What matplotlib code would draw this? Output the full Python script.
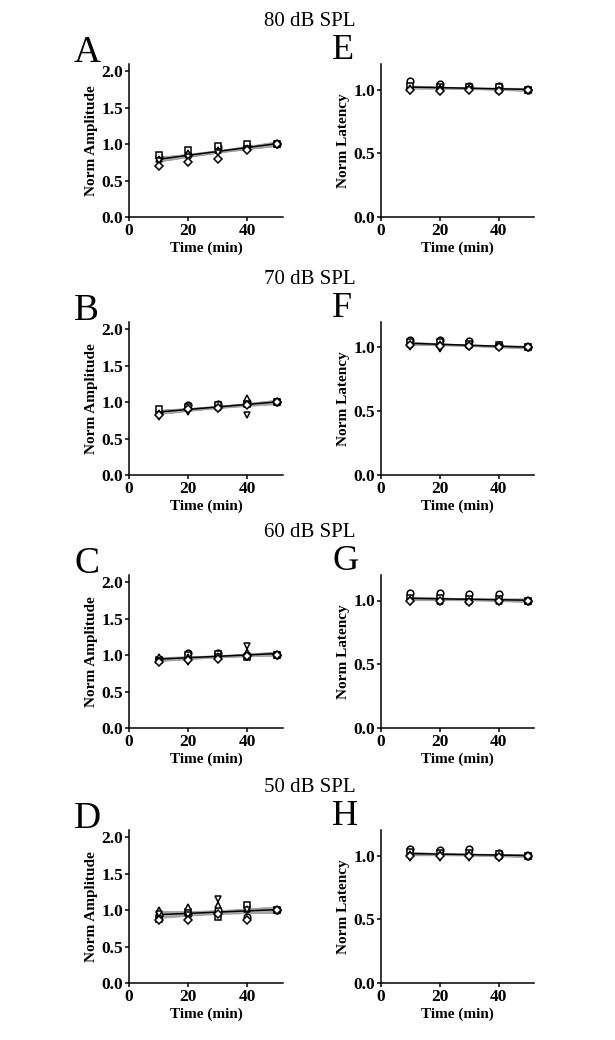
import matplotlib.pyplot as plt
import numpy as np

plt.rcParams['font.family'] = ['Liberation Serif', 'DejaVu Serif']

times = [10, 20, 30, 40, 50]
markers = ['o', 's', '^', 'v', 'D']
levels = ['80 dB SPL', '70 dB SPL', '60 dB SPL', '50 dB SPL']
amp_letters = ['A', 'B', 'C', 'D']
lat_letters = ['E', 'F', 'G', 'H']

# amplitude, one row per animal (circle, square, up, down, diamond)
amp_80 = [[0.82, 0.85, 0.96, 0.98, 1.0],
          [0.85, 0.92, 0.98, 1.00, 1.0],
          [0.80, 0.88, 0.92, 0.95, 1.0],
          [0.77, 0.82, 0.88, 0.94, 1.0],
          [0.70, 0.76, 0.80, 0.92, 1.0]]
amp_70 = [[0.87, 0.96, 0.98, 1.00, 1.0],
          [0.90, 0.94, 0.96, 0.98, 1.0],
          [0.85, 0.92, 0.94, 1.05, 1.0],
          [0.80, 0.87, 0.90, 0.83, 1.0],
          [0.83, 0.90, 0.92, 0.96, 1.0]]
amp_60 = [[0.95, 1.03, 1.03, 1.00, 1.0],
          [0.93, 1.00, 1.01, 0.98, 1.0],
          [0.98, 0.97, 0.99, 1.05, 1.0],
          [0.92, 0.90, 0.97, 1.12, 1.0],
          [0.90, 0.93, 0.95, 0.99, 1.0]]
amp_50 = [[0.93, 0.95, 1.00, 0.91, 1.0],
          [0.88, 0.97, 0.90, 1.07, 1.0],
          [1.00, 1.05, 1.07, 1.02, 1.0],
          [0.95, 0.93, 1.15, 1.00, 1.0],
          [0.86, 0.87, 0.95, 0.87, 1.0]]

# latency
lat_80 = [[1.07, 1.04, 1.03, 1.03, 1.0],
          [1.03, 1.02, 1.02, 1.02, 1.0],
          [1.01, 1.01, 1.01, 1.00, 1.0],
          [0.99, 1.00, 1.00, 0.99, 1.0],
          [1.00, 0.99, 1.00, 0.99, 1.0]]
lat_70 = [[1.06, 1.06, 1.05, 1.02, 1.0],
          [1.04, 1.04, 1.03, 1.02, 1.0],
          [1.03, 1.03, 1.02, 1.01, 1.0],
          [1.00, 0.99, 1.00, 1.00, 1.0],
          [1.02, 1.01, 1.01, 1.00, 1.0]]
lat_60 = [[1.06, 1.06, 1.05, 1.05, 1.0],
          [1.02, 1.02, 1.01, 1.01, 1.0],
          [1.01, 1.00, 1.00, 1.00, 1.0],
          [0.99, 0.99, 0.99, 0.99, 1.0],
          [1.00, 1.00, 0.99, 1.00, 1.0]]
lat_50 = [[1.05, 1.04, 1.05, 1.02, 1.0],
          [1.03, 1.02, 1.02, 1.01, 1.0],
          [1.01, 1.01, 1.01, 1.00, 1.0],
          [0.98, 0.98, 0.98, 0.98, 1.0],
          [1.00, 1.00, 1.00, 0.99, 1.0]]

amp_data = [amp_80, amp_70, amp_60, amp_50]
lat_data = [lat_80, lat_70, lat_60, lat_50]


def draw_panel(ax, data, ylim, yticks, ylabel):
    t = np.array(times, dtype=float)
    y = np.array(data, dtype=float)
    xs = np.tile(t, y.shape[0])
    ys = y.ravel()
    slope, icpt = np.polyfit(xs, ys, 1)
    xf = np.linspace(t[0], t[-1], 50)
    yf = slope * xf + icpt
    resid = ys - (slope * xs + icpt)
    s = np.sqrt(np.sum(resid ** 2) / (len(xs) - 2))
    se = s * np.sqrt(1.0 / len(xs) + (xf - xs.mean()) ** 2 / np.sum((xs - xs.mean()) ** 2))
    ax.fill_between(xf, yf - 2 * se, yf + 2 * se, color='#a8a8a8', lw=0.5,
                    edgecolor='#909090', zorder=1)
    ax.plot(xf, yf, color='black', lw=1.1, zorder=2)
    for row, m in zip(data, markers):
        ax.plot(times, row, ls='none', marker=m, ms=4.8 if m != 'D' else 4.0,
                mfc='white', mec='black', mew=1.1, zorder=3)
    ax.set_xlim(0, 52)
    ax.set_ylim(*ylim)
    ax.set_xticks([0, 20, 40])
    ax.set_yticks(yticks)
    ax.set_yticklabels(['%.1f' % v for v in yticks])
    for sp in ['top', 'right']:
        ax.spines[sp].set_visible(False)
    for sp in ['left', 'bottom']:
        ax.spines[sp].set_linewidth(1.1)
    ax.tick_params(direction='out', length=3, width=1.1, pad=1, labelsize=12.5)
    for lbl in ax.get_xticklabels() + ax.get_yticklabels():
        lbl.set_fontweight('bold')
    ax.set_xlabel('Time (min)', fontsize=11, fontweight='bold', labelpad=2)
    ax.set_ylabel(ylabel, fontsize=11, fontweight='bold', labelpad=3)


fig = plt.figure(figsize=(6.15, 10.4), dpi=100)
W, H = 615.0, 1040.0
bottoms = [217, 475, 728, 983]
for i in range(4):
    b = bottoms[i]
    ax1 = fig.add_axes([129 / W, 1 - b / H, 154 / W, 153 / H])
    draw_panel(ax1, amp_data[i], (0, 2.1), [0.0, 0.5, 1.0, 1.5, 2.0], 'Norm Amplitude')
    ax2 = fig.add_axes([381 / W, 1 - b / H, 153 / W, 153 / H])
    draw_panel(ax2, lat_data[i], (0, 1.2), [0.0, 0.5, 1.0], 'Norm Latency')
    fig.text(310 / W, 1 - (b - 191) / H, levels[i], ha='center', va='baseline', fontsize=15)
    fig.text(74 / W, 1 - (b - 155) / H, amp_letters[i], ha='left', va='baseline', fontsize=27)
    fig.text(332 / W, 1 - (b - 158) / H, lat_letters[i], ha='left', va='baseline', fontsize=26)

fig.savefig('out.png', dpi=100)
